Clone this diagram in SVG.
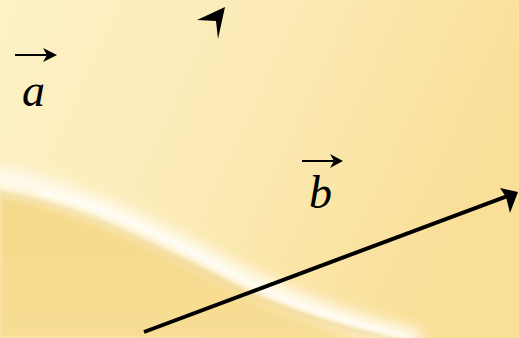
<svg xmlns="http://www.w3.org/2000/svg" width="519" height="338" viewBox="0 0 519 338">
<defs>
<linearGradient id="bg" x1="0" y1="0" x2="1" y2="0.3">
<stop offset="0" stop-color="#fdf1c6"/>
<stop offset="0.5" stop-color="#fcebb6"/>
<stop offset="1" stop-color="#f9df98"/>
</linearGradient>
<linearGradient id="low" x1="0" y1="0" x2="0" y2="1">
<stop offset="0" stop-color="#f5d98c"/>
<stop offset="1" stop-color="#f8dd94"/>
</linearGradient>
<filter id="blur" x="-20%" y="-50%" width="140%" height="200%"><feGaussianBlur stdDeviation="7"/></filter>
<filter id="blur2" x="-20%" y="-50%" width="140%" height="200%"><feGaussianBlur stdDeviation="2"/></filter>
<style>
.lbl{font-family:"Liberation Serif","Times New Roman",serif;font-style:italic;font-size:46px;fill:#000}
.vec{stroke:#000;fill:none}
</style>
</defs>
<rect width="519" height="338" fill="url(#bg)"/>
<path d="M0,196 C80,210 160,250 250,292 C310,318 360,332 420,338 L0,338 Z" fill="url(#low)" filter="url(#blur2)"/>
<path d="M-10,176 C70,188 150,228 240,276 C300,306 350,323 420,340" stroke="#fffcf2" stroke-width="20" fill="none" filter="url(#blur)" opacity="0.95"/>
<path d="M-10,192 C70,202 150,242 240,290 C300,317 350,331 420,343" stroke="#e8c878" stroke-width="4" fill="none" filter="url(#blur2)" opacity="0.55"/>
<path d="M40,192 C120,210 190,250 250,283 C300,308 350,324 410,338" stroke="#fffef8" stroke-width="4" fill="none" filter="url(#blur2)"/>
<g id="connectors">
<line class="vec" x1="144" y1="332" x2="510" y2="195" stroke-width="4"/>
<polygon points="518,192 500,188 506,197 510,213" fill="#000"/>
<polygon points="225,7 197,20 216,21 218,39" fill="#000"/>
</g>
<g id="label-a">
<line class="vec" x1="15" y1="55" x2="54" y2="55" stroke-width="2"/>
<path d="M57,55 L43,48 L47,55 L43,62 Z" fill="#000"/>
<text class="lbl" x="22" y="106">a</text>
</g>
<g id="label-b">
<line class="vec" x1="302" y1="161" x2="340" y2="161" stroke-width="2"/>
<path d="M343,161 L330,154 L334,161 L330,168 Z" fill="#000"/>
<text class="lbl" x="309" y="208">b</text>
</g>
</svg>
